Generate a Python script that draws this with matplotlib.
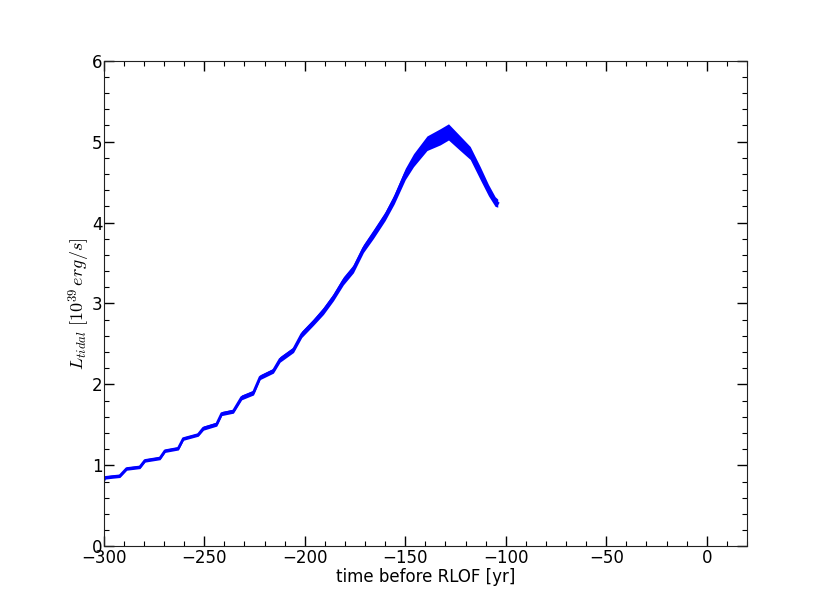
import matplotlib
matplotlib.use("Agg")
import matplotlib.pyplot as plt
import numpy as np
from matplotlib.ticker import MultipleLocator

plt.rcParams["mathtext.fontset"] = "cm"

# time before RLOF [yr] and L_tidal [1e39 erg/s], centre of the point cloud
t_yr = [-300.0, -299.4, -296.0, -292.0, -288.6, -282.0, -279.5, -272.0, -269.5,
        -262.9, -260.4, -253.0, -250.4, -243.8, -241.3, -235.5, -231.4, -225.5,
        -222.2, -215.6, -212.3, -205.6, -201.5, -195.7, -190.7, -185.7, -180.8,
        -175.8, -170.8, -165.8, -160.0, -155.5, -150.0, -145.9, -139.2, -132.6,
        -128.5, -122.7, -117.7, -112.7, -108.6, -105.3, -104.0]
l_tidal = [0.81, 0.85, 0.86, 0.87, 0.96, 0.98, 1.06, 1.09, 1.18,
           1.21, 1.33, 1.38, 1.46, 1.51, 1.64, 1.67, 1.84, 1.90,
           2.09, 2.17, 2.31, 2.43, 2.62, 2.77, 2.91, 3.08, 3.28,
           3.43, 3.68, 3.86, 4.08, 4.29, 4.60, 4.77, 4.98, 5.06,
           5.12, 4.98, 4.86, 4.61, 4.40, 4.26, 4.24]
# half-width of the scatter band around the centre
spread = [0.02, 0.02, 0.02, 0.02, 0.02, 0.02, 0.02, 0.02, 0.02,
          0.02, 0.02, 0.02, 0.025, 0.025, 0.025, 0.025, 0.03, 0.03,
          0.03, 0.03, 0.035, 0.035, 0.04, 0.04, 0.045, 0.045, 0.05,
          0.05, 0.05, 0.055, 0.055, 0.06, 0.07, 0.08, 0.09, 0.1,
          0.1, 0.09, 0.08, 0.08, 0.07, 0.06, 0.05]

t = np.array(t_yr)
lt = np.array(l_tidal)
sp = np.array(spread)

fig = plt.figure(figsize=(8.3, 6.07), dpi=100)
ax = fig.add_axes([0.125, 0.1, 0.775, 0.8])

ax.fill_between(t, lt - sp, lt + sp, color="#0000ff", lw=0)
ax.plot(t, lt, color="#0000ff", lw=2.0, solid_joinstyle="round")

ax.set_xlim(-300, 20)
ax.set_ylim(0, 6)
ax.xaxis.set_major_locator(MultipleLocator(50))
ax.xaxis.set_minor_locator(MultipleLocator(10))
ax.yaxis.set_major_locator(MultipleLocator(1))
ax.yaxis.set_minor_locator(MultipleLocator(0.2))
ax.tick_params(which="both", direction="in", top=True, right=True,
               labelsize=12, colors="black")
ax.tick_params(which="major", length=7, width=1)
ax.tick_params(axis="x", which="major", pad=2)
ax.tick_params(axis="y", which="major", pad=1)
ax.tick_params(which="minor", length=3.5, width=0.8)
for s in ax.spines.values():
    s.set_color("#222222")

ax.set_xlabel("time before RLOF [yr]", fontsize=12, labelpad=1)
ax.set_ylabel(r"$L_{tidal}\ [10^{39}\,erg/s]$", fontsize=13, labelpad=0)

fig.savefig("out.png", dpi=100)
